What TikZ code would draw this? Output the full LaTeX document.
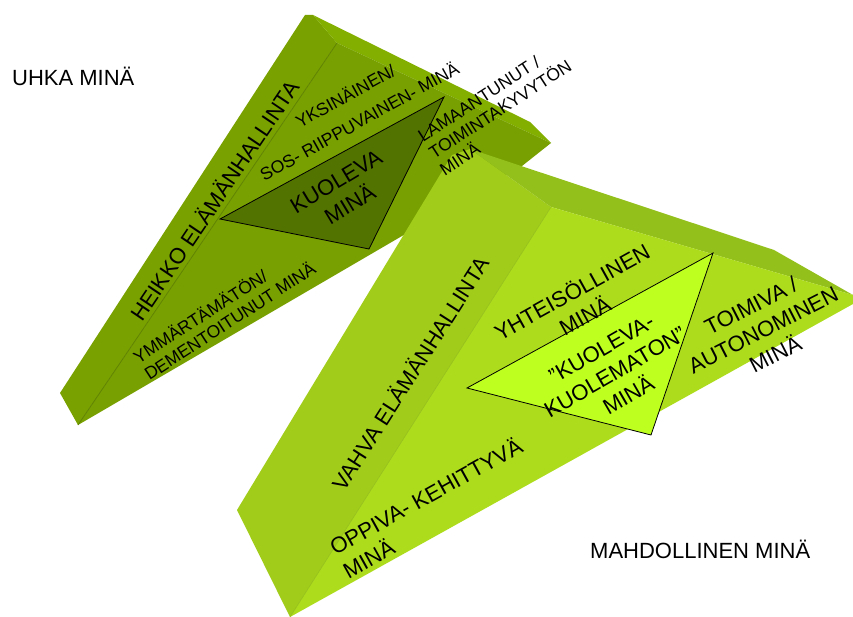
\documentclass[tikz,border=0pt]{standalone}
\usepackage{fontspec}
\setmainfont{Liberation Sans}
\usetikzlibrary{calc}
\definecolor{OliveSide}{HTML}{79A100}
\definecolor{OliveTop}{HTML}{82AF00}
\definecolor{OliveFace}{HTML}{77A000}
\definecolor{OliveRidge}{HTML}{5F8000}
\definecolor{OliveCore}{HTML}{537300}
\definecolor{LimeSide}{HTML}{A1CD1A}
\definecolor{LimeTop}{HTML}{94C01B}
\definecolor{LimeFace}{HTML}{ADDC1D}
\definecolor{LimeRidge}{HTML}{96C01A}
\definecolor{LimeCore}{HTML}{BEFF1F}
\tikzset{
  ridge/.style={line width=0.7pt},
  core/.style={draw=black, line width=0.8pt},
  bigtext/.style={font=\fontsize{22}{27}\selectfont, inner sep=0pt, align=center},
  smalltext/.style={font=\fontsize{17.5}{20}\selectfont, inner sep=0pt, align=left},
  title/.style={font=\fontsize{22}{27}\selectfont, inner sep=0pt, anchor=base west},
}

\begin{document}
\begin{tikzpicture}[x=1pt,y=-1pt]
  \useasboundingbox (0,0) rectangle (853,617);

  % upper pyramid: uhka
  \coordinate (ua) at (305,15);
  \coordinate (ub) at (313,15);
  \coordinate (uc) at (530,122);
  \coordinate (ud) at (551,143);
  \coordinate (ug) at (522,166);
  \coordinate (ue) at (78,425);
  \coordinate (uf) at (60,393);
  \coordinate (ui) at (337,43);
  \fill[OliveSide] (ua) -- (ub) -- (ui) -- (ue) -- (uf) -- cycle;
  \fill[OliveTop] (ub) -- (uc) -- (ud) -- (ui) -- cycle;
  \fill[OliveFace] (ui) -- (ud) -- (ug) -- (ue) -- cycle;
  \draw[ridge, OliveRidge] (ui) -- (ue);
  \filldraw[core, fill=OliveCore] (220,219) -- (444,97) -- (369,249) -- cycle;

  % lower pyramid: mahdollinen
  \coordinate (ma) at (452,155);
  \coordinate (mb) at (470,149);
  \coordinate (mc) at (774,250);
  \coordinate (md) at (853,295);
  \coordinate (mg) at (853,304);
  \coordinate (me) at (290,617);
  \coordinate (mf) at (237,510);
  \coordinate (mi) at (551,207);
  \fill[LimeSide] (ma) -- (mb) -- (mi) -- (me) -- (mf) -- cycle;
  \fill[LimeTop] (mb) -- (mc) -- (md) -- (mi) -- cycle;
  \fill[LimeFace] (mi) -- (md) -- (mg) -- (me) -- cycle;
  \draw[ridge, LimeRidge] (mi) -- (me);
  \filldraw[core, fill=LimeCore] (467,388) -- (713,253) -- (651,435) -- cycle;

  % labels
  \node[bigtext, rotate=56] (heikko) at (214,200) {HEIKKO ELÄMÄNHALLINTA};
  \node[smalltext, align=center, font=\fontsize{17.5}{29}\selectfont, rotate=29]
        (yksinainen) at (352,108) {YKSINÄINEN/\\SOS- RIIPPUVAINEN- MINÄ};
  \node[bigtext, rotate=31] (kuoleva) at (343,193) {KUOLEVA\\MINÄ};
  \node[smalltext, rotate=33] (lamaantunut) at (500,109)
        {LAMAANTUNUT /\\TOIMINTAKYVYTÖN\\MINÄ};
  \node[smalltext, rotate=33] (ymmartamaton) at (224,312)
        {YMMÄRTÄMÄTÖN/\\DEMENTOITUNUT MINÄ};
  \node[bigtext, rotate=57.5] (vahva) at (410,373) {VAHVA ELÄMÄNHALLINTA};
  \node[bigtext, rotate=29] (yhteisollinen) at (578,303) {YHTEISÖLLINEN\\MINÄ};
  \node[bigtext, rotate=27] (toimiva) at (763,330) {TOIMIVA /\\AUTONOMINEN\\MINÄ};
  \node[bigtext, rotate=30] (kuolematon) at (615,372) {”KUOLEVA-\\KUOLEMATON”\\MINÄ};
  \node[bigtext, align=left, rotate=29] (oppiva) at (432,507) {OPPIVA- KEHITTYVÄ\\MINÄ};

  \node[title] (uhka) at (12,86) {UHKA MINÄ};
  \node[title] (mahdollinen) at (590,558) {MAHDOLLINEN MINÄ};

\end{tikzpicture}
\end{document}
